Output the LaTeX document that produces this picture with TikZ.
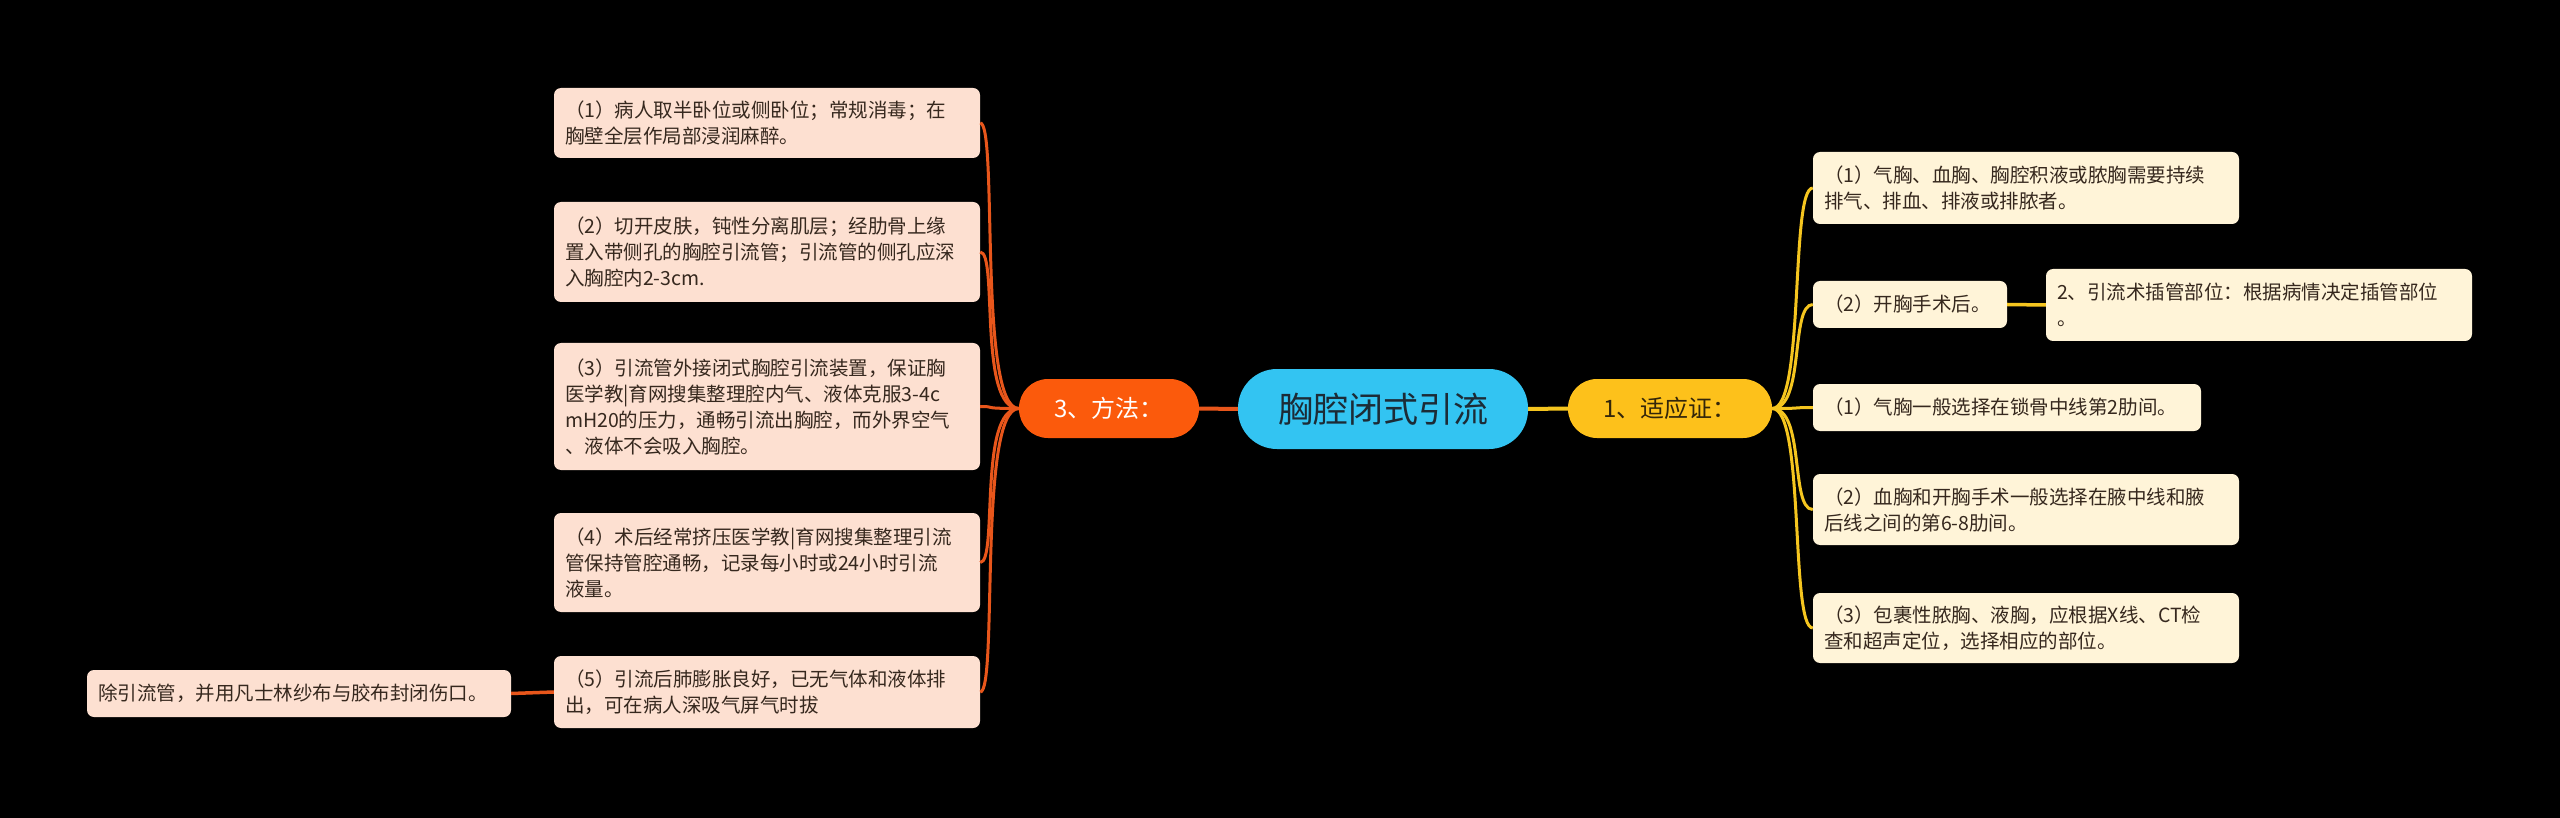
\documentclass[tikz,border=0pt]{standalone}
\usepackage{fontspec}
\setmainfont{Noto Sans CJK SC}
\definecolor{rootfill}{HTML}{33C4F2}
\definecolor{roottext}{HTML}{1C2B36}
\definecolor{mlfill}{HTML}{FB5A0C}
\definecolor{mrfill}{HTML}{FDC11B}
\definecolor{mrtext}{HTML}{33260A}
\definecolor{lleaf}{HTML}{FDE0D1}
\definecolor{rleaf}{HTML}{FFF4D8}
\definecolor{leaftext}{HTML}{36281E}
\definecolor{lline}{HTML}{E8561B}
\definecolor{rline}{HTML}{F5C51F}
\begin{document}
\begin{tikzpicture}[x=1pt,y=-1pt,
  leafbase/.style={rectangle, rounded corners=7pt, text=leaftext,
    font=\fontsize{19.5}{26}\selectfont, inner xsep=11pt, inner ysep=0pt, align=left},
  leafL/.style={leafbase, fill=lleaf},
  leafR/.style={leafbase, fill=rleaf},
  rootnode/.style={rectangle, rounded corners=39pt, fill=rootfill, text=roottext,
    minimum width=290pt, minimum height=80pt, font=\fontsize{35}{40}\selectfont},
  mainL/.style={rectangle, rounded corners=29pt, fill=mlfill, text=white,
    minimum width=180pt, minimum height=59pt, font=\fontsize{24}{28}\selectfont},
  mainR/.style={rectangle, rounded corners=29pt, fill=mrfill, text=mrtext,
    minimum width=204pt, minimum height=59pt, font=\fontsize{24}{28}\selectfont},
  lineL/.style={draw=lline, line width=3pt},
  lineR/.style={draw=rline, line width=3pt}
]
\fill[black] (0,0) rectangle (2560,818);

% main nodes
\node[rootnode] (root) at (1383,409) {胸腔闭式引流};
\node[mainL] (m3) at (1109,408.5) {3、方法：};
\node[mainR] (m1) at (1670,408.5) {1、适应证：};

% left leaves
\node[leafL, text width=404pt, minimum height=70pt] (l1) at (767,123)
  {（1）病人取半卧位或侧卧位；常规消毒；在\\胸壁全层作局部浸润麻醉。};
\node[leafL, text width=404pt, minimum height=100pt] (l2) at (767,252)
  {（2）切开皮肤，钝性分离肌层；经肋骨上缘\\置入带侧孔的胸腔引流管；引流管的侧孔应深\\入胸腔内2-3cm.};
\node[leafL, text width=404pt, minimum height=127pt] (l3) at (767,406.5)
  {（3）引流管外接闭式胸腔引流装置，保证胸\\医学教|育网搜集整理腔内气、液体克服3-4c\\mH20的压力，通畅引流出胸腔，而外界空气\\、液体不会吸入胸腔。};
\node[leafL, text width=404pt, minimum height=99pt] (l4) at (767,562.5)
  {（4）术后经常挤压医学教|育网搜集整理引流\\管保持管腔通畅，记录每小时或24小时引流\\液量。};
\node[leafL, text width=404pt, minimum height=72pt] (l5) at (767,692)
  {（5）引流后肺膨胀良好，已无气体和液体排\\出，可在病人深吸气屏气时拔};
\node[leafL, text width=402pt, minimum height=47pt] (l5c) at (299,693.5)
  {除引流管，并用凡士林纱布与胶布封闭伤口。};

% right leaves
\node[leafR, text width=404pt, minimum height=72pt] (r1) at (2026,188)
  {（1）气胸、血胸、胸腔积液或脓胸需要持续\\排气、排血、排液或排脓者。};
\node[leafR, text width=172pt, minimum height=47pt] (r2) at (1910,304.5)
  {（2）开胸手术后。};
\node[leafR, text width=404pt, minimum height=72pt] (r2c) at (2259,305)
  {2、引流术插管部位：根据病情决定插管部位\\。};
\node[leafR, text width=366pt, minimum height=47pt] (r3) at (2007,407.5)
  {（1）气胸一般选择在锁骨中线第2肋间。};
\node[leafR, text width=404pt, minimum height=71pt] (r4) at (2026,509.5)
  {（2）血胸和开胸手术一般选择在腋中线和腋\\后线之间的第6-8肋间。};
\node[leafR, text width=404pt, minimum height=70pt] (r5) at (2026,628)
  {（3）包裹性脓胸、液胸，应根据X线、CT检\\查和超声定位，选择相应的部位。};

% connectors
\draw[lineL, line width=4pt] (root.west) -- (m3.east);
\draw[lineR, line width=4pt] (root.east) -- (m1.west);
\foreach \n in {l1,l2,l3,l4,l5}{
  \draw[lineL] (m3.west) .. controls +(-41,0) and +(18,0) .. (\n.east);
}
\foreach \n in {r1,r2,r3,r4,r5}{
  \draw[lineR] (m1.east) .. controls +(33,0) and +(-23,0) .. (\n.west);
}
\draw[lineL, line width=3.5pt] (l5.west) -- (l5c.east);
\draw[lineR, line width=3.5pt] (r2.east) -- (r2c.west);
\end{tikzpicture}
\end{document}
